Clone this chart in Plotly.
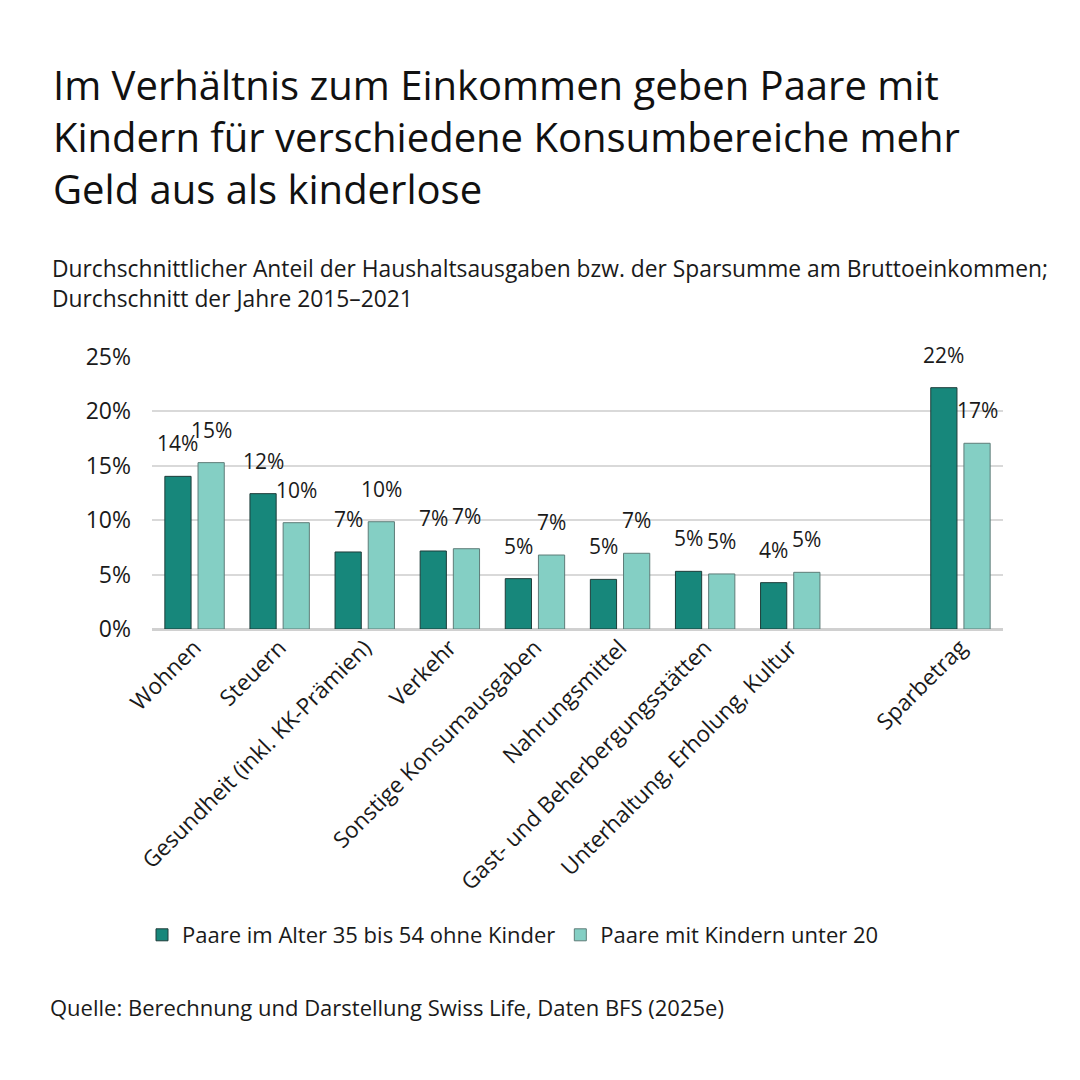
import plotly.graph_objects as go

categories = ["Wohnen", "Steuern", "Gesundheit (inkl. KK-Prämien)", "Verkehr",
              "Sonstige Konsumausgaben", "Nahrungsmittel", "Gast- und Beherbergungsstätten",
              "Unterhaltung, Erholung, Kultur", " ", "Sparbetrag"]
ohne_kinder = [0.1403, 0.1244, 0.0708, 0.0717, 0.0463, 0.0456, 0.0530, 0.0426, None, 0.2218]
mit_kindern = [0.1529, 0.0977, 0.0986, 0.0738, 0.0680, 0.0696, 0.0506, 0.0521, None, 0.1707]
series_names = ["Paare im Alter 35 bis 54 ohne Kinder", "Paare mit Kindern unter 20"]
y_ticks = [0, 0.05, 0.10, 0.15, 0.20, 0.25]
y_tick_labels = ["0%", "5%", "10%", "15%", "20%", "25%"]

FONT = "Open Sans"
DARK = "#17877b"
LIGHT = "#84cfc4"
TXT = "#1a1a1a"

# plot area in pixels
L, R, T, B = 152, 1003, 357, 629
W, H = R - L, B - T
def px_x(p): return (p - L) / W
def px_y(p): return (B - p) / H

fig = go.Figure()
fig.add_trace(go.Bar(x=categories, y=ohne_kinder, name=series_names[0],
                     marker=dict(color=DARK, line=dict(color="#1e3d3a", width=1))))
fig.add_trace(go.Bar(x=categories, y=mit_kindern, name=series_names[1],
                     marker=dict(color=LIGHT, line=dict(color="#5e7c78", width=1))))

bargap, bargroupgap = 0.22, 0.21
slot = W / len(categories) * (1 - bargap) / 2
annotations = []
for vals, sign in ((ohne_kinder, -1), (mit_kindern, 1)):
    for c, v in zip(categories, vals):
        if v is None:
            continue
        annotations.append(dict(x=c, y=v, xref="x", yref="y", text=f"{round(v*100):.0f}%",
                                showarrow=False, xanchor="center", yanchor="bottom",
                                xshift=sign * slot / 2, yshift=17,
                                font=dict(size=21, family=FONT, color=TXT)))

annotations += [
    dict(text="Durchschnittlicher Anteil der Haushaltsausgaben bzw. der Sparsumme am Bruttoeinkommen;<br>Durchschnitt der Jahre 2015–2021",
         x=px_x(50), y=px_y(251), xref="paper", yref="paper", xanchor="left", yanchor="top",
         align="left", showarrow=False, font=dict(size=22.8, family=FONT, color=TXT)),
    dict(text="Quelle: Berechnung und Darstellung Swiss Life, Daten BFS (2025e)",
         x=px_x(48), y=px_y(1007), xref="paper", yref="paper", xanchor="left", yanchor="middle",
         align="left", showarrow=False, font=dict(size=22, family=FONT, color=TXT)),
]

fig.update_layout(
    width=1080, height=1080,
    paper_bgcolor="white", plot_bgcolor="white",
    margin=dict(l=L, r=1080 - R, t=T, b=1080 - B),
    barmode="group", bargap=bargap, bargroupgap=bargroupgap,
    font=dict(family=FONT, color=TXT),
    title=dict(text="Im Verhältnis zum Einkommen geben Paare mit<br>Kindern für verschiedene Konsumbereiche mehr<br>Geld aus als kinderlose",
               x=53/1080, xanchor="left", xref="container",
               y=1 - 100/1080, yanchor="top", yref="container",
               font=dict(size=40, family=FONT, color="#111111")),
    showlegend=True,
    legend=dict(orientation="h", x=513/1080, xanchor="center", xref="container",
                y=1 - 935/1080, yanchor="middle", yref="container",
                font=dict(size=22, family=FONT, color=TXT),
                traceorder="normal"),
    xaxis=dict(type="category", tickangle=-45, tickfont=dict(size=22.5, family=FONT, color=TXT),
               showgrid=False, showline=False, ticks=""),
    yaxis=dict(range=[0, 0.25], tickvals=y_ticks, ticktext=y_tick_labels,
               tickfont=dict(size=23, family=FONT, color=TXT),
               showgrid=True, gridcolor="#d9d9d9", gridwidth=2,
               zeroline=True, zerolinecolor="#d0d0d0", zerolinewidth=3,
               ticks="", ticklabelstandoff=20),
    annotations=annotations,
)

fig.write_html("out.html")
